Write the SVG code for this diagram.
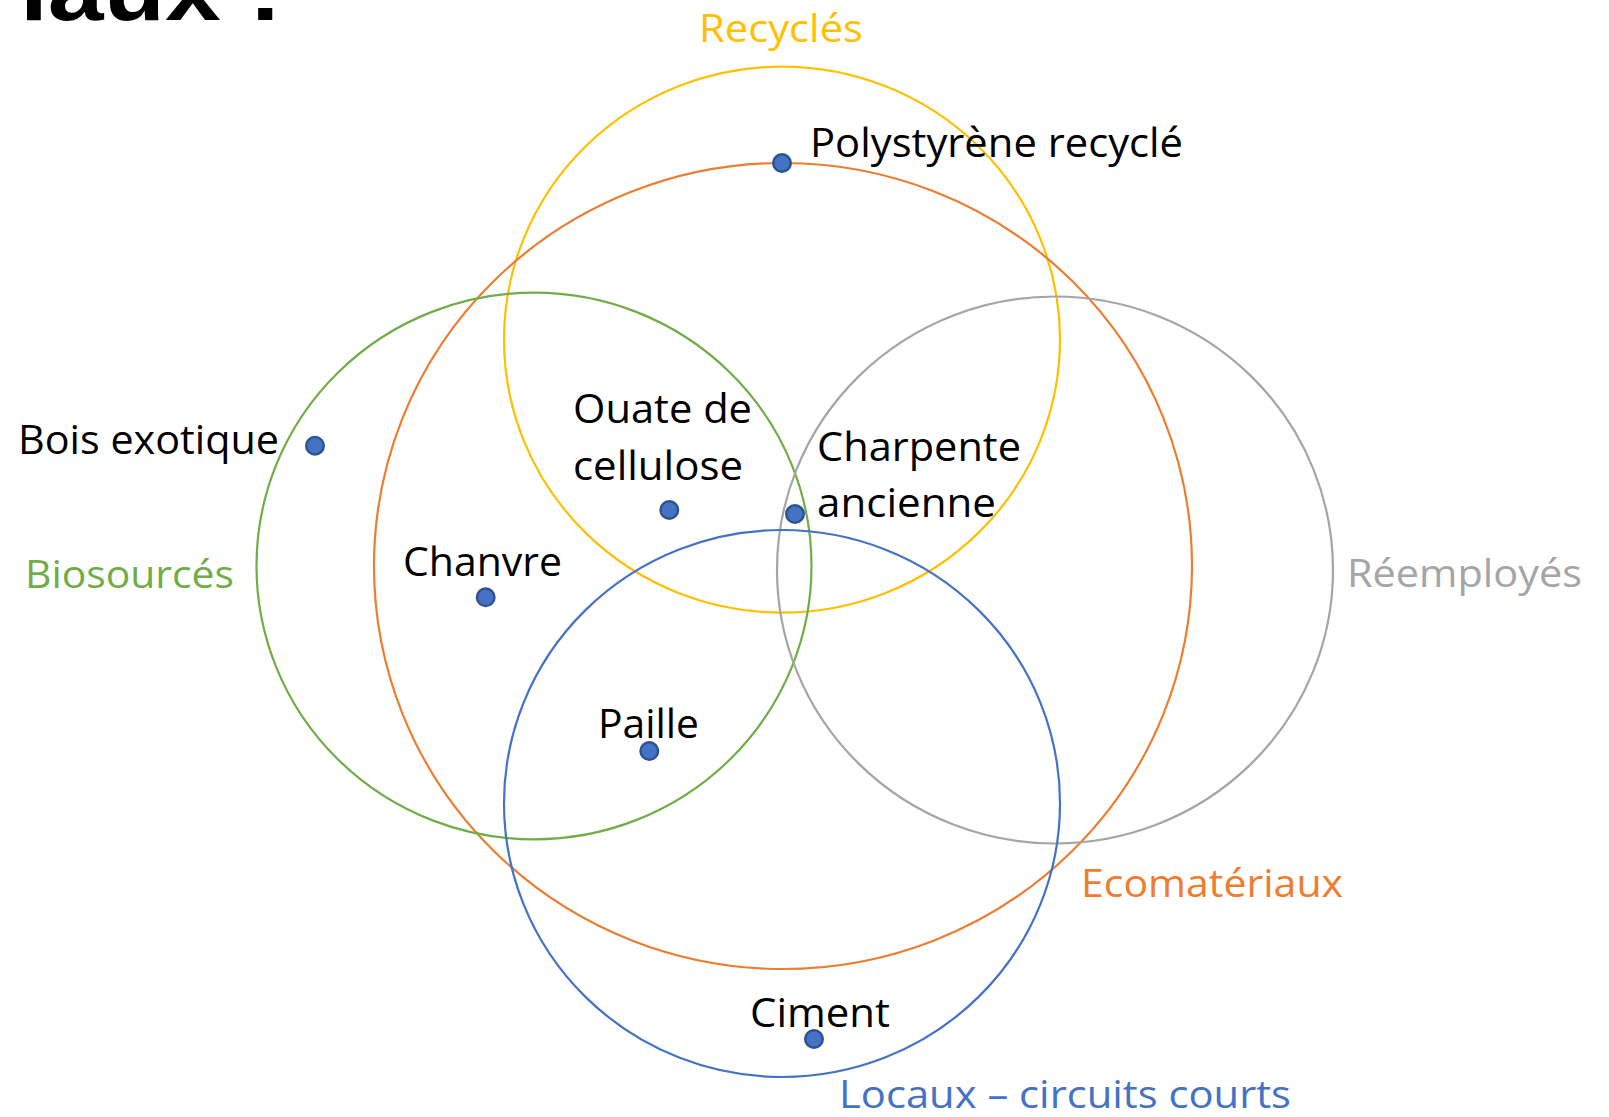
<svg xmlns="http://www.w3.org/2000/svg" width="1609" height="1117" viewBox="0 0 1609 1117">
<style>
.ring{fill:none;stroke-width:2.2}
.dot{fill:#4472C4;stroke:#2F528F;stroke-width:2.4}
.lbl{font-family:"Open Sans","Noto Sans",sans-serif;font-size:41px;fill:#000}
.cat{font-family:"Open Sans","Noto Sans",sans-serif;font-size:38px}
.title{font-family:"Liberation Sans",Arial,sans-serif;font-weight:bold;font-size:88px;fill:#000}
</style>
<rect width="1609" height="1117" fill="#fff"/>
<text class="title" x="20" y="20" textLength="262" lengthAdjust="spacingAndGlyphs">iaux :</text>

<g id="recycles">
<ellipse class="ring" cx="782" cy="339.6" rx="278" ry="273" stroke="#FFC000"/>
<text class="cat" x="699" y="41.7" fill="#FFC000" textLength="164" lengthAdjust="spacingAndGlyphs">Recyclés</text>
</g>
<g id="ecomateriaux">
<ellipse class="ring" cx="783" cy="566" rx="409" ry="403" stroke="#ED7D31"/>
<text class="cat" x="1081" y="896.7" fill="#ED7D31" textLength="262" lengthAdjust="spacingAndGlyphs">Ecomatériaux</text>
</g>
<g id="biosources">
<ellipse class="ring" cx="534" cy="566" rx="277.5" ry="273.3" stroke="#70AD47"/>
<text class="cat" x="25" y="588.3" fill="#70AD47" textLength="209" lengthAdjust="spacingAndGlyphs">Biosourcés</text>
</g>
<g id="reemployes">
<ellipse class="ring" cx="1055" cy="570" rx="278" ry="273.5" stroke="#A5A5A5"/>
<text class="cat" x="1347" y="586.7" fill="#A5A5A5" textLength="235" lengthAdjust="spacingAndGlyphs">Réemployés</text>
</g>
<g id="locaux">
<ellipse class="ring" cx="782" cy="803.5" rx="278" ry="273.5" stroke="#4472C4"/>
<text class="cat" x="839" y="1108.3" fill="#4472C4" textLength="452" lengthAdjust="spacingAndGlyphs">Locaux – circuits courts</text>
</g>

<g id="polystyrene">
<circle class="dot" cx="782" cy="163" r="8.8"/>
<text class="lbl" x="810" y="157" textLength="373" lengthAdjust="spacingAndGlyphs">Polystyrène recyclé</text>
</g>
<g id="bois-exotique">
<circle class="dot" cx="315" cy="445.7" r="8.8"/>
<text class="lbl" x="18" y="454" textLength="261" lengthAdjust="spacingAndGlyphs">Bois exotique</text>
</g>
<g id="ouate">
<circle class="dot" cx="669.3" cy="510" r="8.8"/>
<text class="lbl" x="573" y="423.3" textLength="179" lengthAdjust="spacingAndGlyphs">Ouate de</text>
<text class="lbl" x="573" y="480" textLength="170" lengthAdjust="spacingAndGlyphs">cellulose</text>
</g>
<g id="charpente">
<circle class="dot" cx="795" cy="514" r="8.8"/>
<text class="lbl" x="817" y="460.7" textLength="204" lengthAdjust="spacingAndGlyphs">Charpente</text>
<text class="lbl" x="817" y="516.7" textLength="179" lengthAdjust="spacingAndGlyphs">ancienne</text>
</g>
<g id="chanvre">
<circle class="dot" cx="485.7" cy="597.3" r="8.8"/>
<text class="lbl" x="403" y="576" textLength="159" lengthAdjust="spacingAndGlyphs">Chanvre</text>
</g>
<g id="paille">
<circle class="dot" cx="649.3" cy="751" r="8.8"/>
<text class="lbl" x="598" y="738.3" textLength="101" lengthAdjust="spacingAndGlyphs">Paille</text>
</g>
<g id="ciment">
<circle class="dot" cx="814" cy="1039" r="8.8"/>
<text class="lbl" x="750" y="1027" textLength="140" lengthAdjust="spacingAndGlyphs">Ciment</text>
</g>
</svg>
